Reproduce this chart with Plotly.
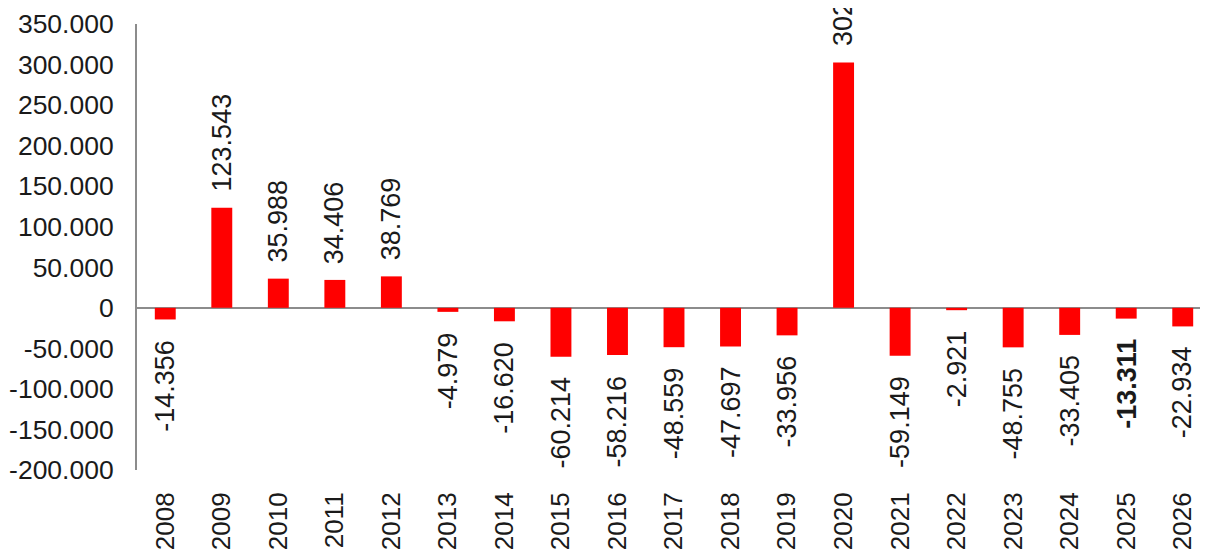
import plotly.graph_objects as go

years = ["2008", "2009", "2010", "2011", "2012", "2013", "2014", "2015", "2016", "2017",
         "2018", "2019", "2020", "2021", "2022", "2023", "2024", "2025", "2026"]
values = [-14356, 123543, 35988, 34406, 38769, -4979, -16620, -60214, -58216, -48559,
          -47697, -33956, 302581, -59149, -2921, -48755, -33405, -13311, -22934]
bold_years = ["2025"]
y_ticks = [-200000, -150000, -100000, -50000, 0, 50000, 100000, 150000, 200000, 250000, 300000, 350000]

FONT = "Liberation Sans, Arial, sans-serif"
TXT = "#1a1a1a"
AX = "#8c8c8c"

def fmt(v):
    return f"{v:,}".replace(",", ".")

fig = go.Figure()
fig.add_trace(go.Bar(x=years, y=values, marker=dict(color="#FF0000", line=dict(width=0)),
                     width=0.37, hoverinfo="skip"))

annotations = []
for i, (yr, v) in enumerate(zip(years, values)):
    t = fmt(v)
    if yr in bold_years:
        t = f"<b>{t}</b>"
    annotations.append(dict(
        x=i, y=v, xref="x", yref="y", text=t, showarrow=False, textangle=-90,
        yanchor="bottom" if v >= 0 else "top", xanchor="center",
        yshift=14 if v >= 0 else -18,
        font=dict(family=FONT, size=27, color=TXT)))

# page body adds an 8px offset; margins compensate for it
fig.update_layout(
    width=1208, height=550,
    margin=dict(l=129, r=5, t=16, b=88),
    paper_bgcolor="white", plot_bgcolor="white",
    showlegend=False,
    annotations=annotations,
    xaxis=dict(type="category", range=[-0.5, len(years) - 0.5], tickangle=-90,
               showgrid=False, showline=False, zeroline=False, automargin=False,
               ticks="outside", ticklen=11, tickcolor="rgba(0,0,0,0)",
               tickfont=dict(family=FONT, size=26, color=TXT)),
    yaxis=dict(range=[-200000, 350000], tickvals=y_ticks, ticktext=[fmt(t) for t in y_ticks],
               showgrid=False, automargin=False,
               showline=True, linecolor=AX, linewidth=2,
               zeroline=True, zerolinecolor=AX, zerolinewidth=2,
               ticks="", ticklabelstandoff=16,
               tickfont=dict(family=FONT, size=26.5, color=TXT)),
)

fig.write_html("out.html")
